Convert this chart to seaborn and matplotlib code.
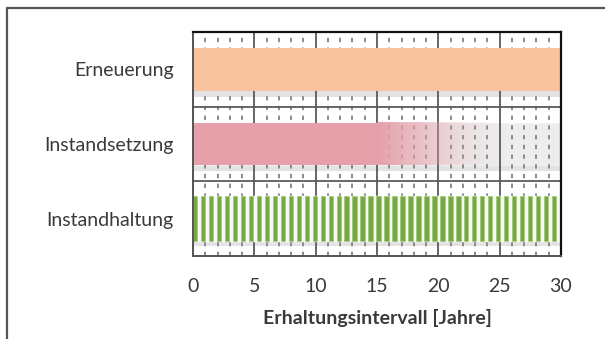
import numpy as np
import pandas as pd
import matplotlib.pyplot as plt
import matplotlib.colors as mcolors
import seaborn as sns

# Daten
kategorien = ["Erneuerung", "Instandsetzung", "Instandhaltung"]
intervall_voll = [30, 15, 0]          # durchgehender Balken (Jahre)
instandsetzung_ausblenden = [15, 25]  # Verlauf von ... bis ... (Jahre)
instandhaltung_schritt = 0.65          # Abstand der Streifen (Jahre)
x_ticks = [0, 5, 10, 15, 20, 25, 30]
farben = ["#F9C3A0", "#E5A0A9", "#76A846"]

sns.set_theme(style="white")
plt.rcParams["font.family"] = ["Lato", "DejaVu Sans"]

fig = plt.figure(figsize=(6.05, 3.39), dpi=100)
ax = fig.add_axes([193 / 605, 1 - 256 / 339, 368 / 605, 224 / 339])

# Rahmen um die ganze Grafik (rechts/unten abgeschnitten)
fig.add_artist(plt.Line2D([7 / 605, 1.0], [1 - 8 / 339, 1 - 8 / 339], color="#555555", lw=1.6))
fig.add_artist(plt.Line2D([7 / 605, 7 / 605], [0, 1 - 8 / 339], color="#555555", lw=1.6))

ax.set_xlim(0, 30)
ax.set_ylim(2.5, -0.5)

# Gitter: Jahre gestrichelt, 5-Jahre durchgezogen
for j in range(31):
    if j % 5 == 0:
        ax.axvline(j, color="#5a5a5a", lw=1.3, zorder=1)
    else:
        ax.axvline(j, color="#8a8a8a", lw=1.4, ls=(0, (2.2, 2.8)), zorder=1)
for yb in [0.5, 1.5]:
    ax.axhline(yb, color="#5a5a5a", lw=1.3, zorder=1)

# heller Hintergrundbalken fuer Instandsetzung, weiss hinter den Streifen
ax.barh(1, 30, height=0.58, color="#EDEDED", zorder=0.5)
ax.barh(2, 30, height=0.6, color="#F7FAF3", zorder=1.5)

# Schatten unter den Balken
for i in range(3):
    ax.barh(i + 0.33, 30, height=0.07, color="#d8d8d8", alpha=0.7, zorder=0.8, lw=0)

df = pd.DataFrame({"Kategorie": kategorien, "Jahre": intervall_voll})
sns.barplot(data=df, x="Jahre", y="Kategorie", hue="Kategorie", palette=farben,
            saturation=1, orient="h", width=0.57, legend=False, ax=ax, zorder=2,
            linewidth=0)

# Verlauf Instandsetzung
a, b = instandsetzung_ausblenden
grad = np.linspace(1, 0, 256) ** 1.3
rgba = np.zeros((1, 256, 4))
rgba[..., :3] = mcolors.to_rgb(farben[1])
rgba[..., 3] = grad
ax.imshow(rgba, extent=[a, b, 1 + 0.285, 1 - 0.285], aspect="auto", zorder=2,
          interpolation="bilinear")

# Streifen Instandhaltung
streifen = np.arange(0, 30, instandhaltung_schritt)
ax.barh([2] * len(streifen), instandhaltung_schritt * 0.55, left=streifen, height=0.6,
        color=farben[2], edgecolor="#a5cc7c", lw=0.6, zorder=2)

ax.set_xlim(0, 30)
ax.set_ylim(2.5, -0.5)
ax.set_xticks(x_ticks)
ax.set_yticks(range(3))
ax.set_yticklabels(kategorien)
ax.tick_params(axis="y", length=0, pad=14, labelsize=14, labelcolor="#3a3a3a")
ax.tick_params(axis="x", length=0, pad=16, labelsize=14, labelcolor="#3a3a3a")
ax.set_ylabel("")
ax.set_xlabel("Erhaltungsintervall [Jahre]", fontsize=14, fontweight="bold",
              color="#3a3a3a", labelpad=10)

for s in ["top", "right"]:
    ax.spines[s].set_color("#111111")
    ax.spines[s].set_linewidth(1.6)
for s in ["left", "bottom"]:
    ax.spines[s].set_color("#555555")
    ax.spines[s].set_linewidth(1.4)
for s in ax.spines.values():
    s.set_zorder(5)

plt.savefig("out.png", dpi=100)
